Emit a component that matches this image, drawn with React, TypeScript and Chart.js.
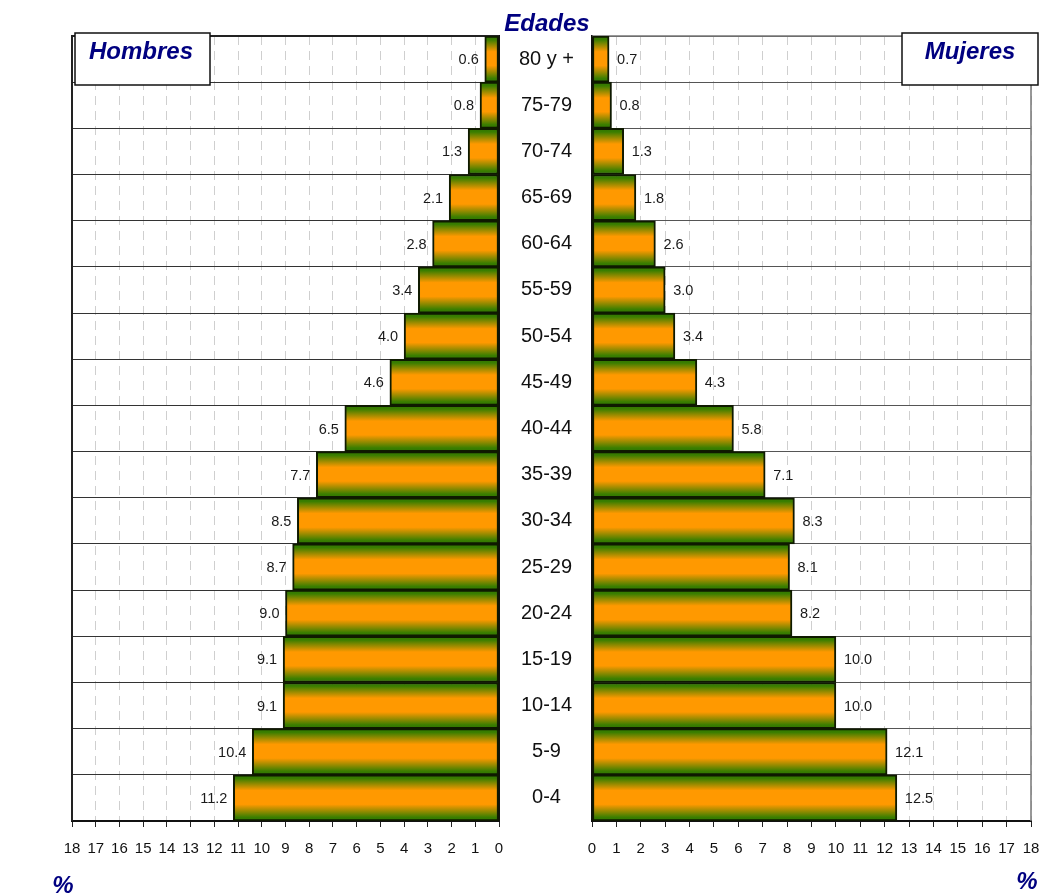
import React, { useEffect, useRef } from "react";
import { Chart, registerables } from "chart.js";

Chart.register(...registerables);

// ---- data ----
const ageGroups = [
  "80 y +", "75-79", "70-74", "65-69", "60-64", "55-59", "50-54", "45-49",
  "40-44", "35-39", "30-34", "25-29", "20-24", "15-19", "10-14", "5-9", "0-4",
];
const menValues = [0.6, 0.8, 1.3, 2.1, 2.8, 3.4, 4.0, 4.6, 6.5, 7.7, 8.5, 8.7, 9.0, 9.1, 9.1, 10.4, 11.2];
const womenValues = [0.7, 0.8, 1.3, 1.8, 2.6, 3.0, 3.4, 4.3, 5.8, 7.1, 8.3, 8.1, 8.2, 10.0, 10.0, 12.1, 12.5];
const axisMin = 0;
const axisMax = 18;
const titleText = "Edades";
const menText = "Hombres";
const womenText = "Mujeres";
const unitText = "%";

const FONT = "'Liberation Sans', Arial, sans-serif";
const NAVY = "#000080";

const barFill = (ctx: any) => {
  const chart = ctx.chart;
  const y = chart.scales && chart.scales.y;
  if (!y || ctx.type !== "data") return "#ff9900";
  const c = y.getPixelForValue(ctx.dataIndex);
  const h = (y.bottom - y.top) / ageGroups.length / 2;
  if (!isFinite(c) || !isFinite(h) || h <= 0) return "#ff9900";
  const g = chart.ctx.createLinearGradient(0, c - h, 0, c + h);
  g.addColorStop(0, "#2f7400");
  g.addColorStop(0.08, "#3a7e00");
  g.addColorStop(0.34, "#ff9900");
  g.addColorStop(0.64, "#ff9900");
  g.addColorStop(0.92, "#3a7e00");
  g.addColorStop(1, "#2f7400");
  return g;
};

const labelsPlugin = (side: "left" | "right") => ({
  id: "valueLabels" + side,
  afterDatasetsDraw(chart: any) {
    const ctx = chart.ctx;
    const meta = chart.getDatasetMeta(0);
    const data = chart.data.datasets[0].data as number[];
    ctx.save();
    ctx.font = `14.5px ${FONT}`;
    ctx.fillStyle = "#1a1a1a";
    ctx.textBaseline = "middle";
    meta.data.forEach((el: any, i: number) => {
      const txt = data[i].toFixed(1);
      if (side === "left") {
        ctx.textAlign = "right";
        ctx.fillText(txt, el.x - 6, el.y + 1);
      } else {
        ctx.textAlign = "left";
        ctx.fillText(txt, el.x + 8, el.y + 1);
      }
    });
    ctx.restore();
  },
});

const framePlugin = (side: "left" | "right") => ({
  id: "frame" + side,
  beforeDatasetsDraw(chart: any) {
    const { ctx, chartArea: a } = chart;
    ctx.save();
    if (side === "left") {
      ctx.strokeStyle = "#222";
      ctx.lineWidth = 2;
      ctx.beginPath();
      ctx.moveTo(a.left, a.bottom);
      ctx.lineTo(a.left, a.top);
      ctx.lineTo(a.right, a.top);
      ctx.stroke();
    } else {
      ctx.strokeStyle = "#777";
      ctx.lineWidth = 1.5;
      ctx.beginPath();
      ctx.moveTo(a.left, a.top);
      ctx.lineTo(a.right, a.top);
      ctx.lineTo(a.right, a.bottom);
      ctx.stroke();
    }
    ctx.restore();
  },
  afterDraw(chart: any) {
    const ctx = chart.ctx;
    ctx.save();
    const drawBox = (x: number, y: number, w: number, h: number, text: string, tx: number) => {
      ctx.fillStyle = "#ffffff";
      ctx.fillRect(x, y, w, h);
      ctx.strokeStyle = "#111";
      ctx.lineWidth = 1.5;
      ctx.strokeRect(x, y, w, h);
      ctx.fillStyle = NAVY;
      ctx.font = `italic bold 24px ${FONT}`;
      ctx.textAlign = "center";
      ctx.textBaseline = "alphabetic";
      ctx.fillText(text, tx, 59);
    };
    if (side === "left") {
      drawBox(75, 33, 135, 52, menText, 141);
      ctx.font = `italic bold 24px ${FONT}`;
      ctx.fillStyle = NAVY;
      ctx.textAlign = "center";
      ctx.textBaseline = "alphabetic";
      ctx.fillText(titleText, 547, 31);
      ctx.fillText(unitText, 63, 893);
    } else {
      drawBox(902, 33, 136, 52, womenText, 970);
      ctx.font = `italic bold 24px ${FONT}`;
      ctx.fillStyle = NAVY;
      ctx.textAlign = "center";
      ctx.textBaseline = "alphabetic";
      ctx.fillText(unitText, 1027, 889);
    }
    ctx.restore();
  },
});

function makeConfig(side: "left" | "right"): any {
  const isLeft = side === "left";
  return {
    type: "bar",
    data: {
      labels: ageGroups,
      datasets: [
        {
          data: isLeft ? menValues : womenValues,
          backgroundColor: barFill,
          borderColor: "#0f1a00",
          borderWidth: 2,
          borderSkipped: false,
          barPercentage: 1,
          categoryPercentage: 1,
        },
      ],
    },
    options: {
      indexAxis: "y",
      responsive: false,
      animation: false,
      events: [],
      layout: {
        padding: isLeft
          ? { left: 72, right: 455, top: 36, bottom: 0 }
          : { left: 592, right: 16, top: 36, bottom: 0 },
      },
      plugins: {
        legend: { display: false },
        tooltip: { enabled: false },
        title: { display: false },
      },
      scales: {
        x: {
          type: "linear",
          min: axisMin,
          max: axisMax,
          reverse: isLeft,
          afterFit(scale: any) {
            scale.height = 75;
            scale.paddingLeft = 0;
            scale.paddingRight = 0;
          },
          ticks: {
            stepSize: 1,
            autoSkip: false,
            maxRotation: 0,
            padding: 13,
            color: "#111",
            font: { family: FONT, size: 15 },
          },
          grid: {
            color: "#cfcfcf",
            lineWidth: 1,
            tickLength: 6,
            tickColor: "#222",
            tickWidth: 1,
          },
          border: {
            display: true,
            color: "#111",
            width: 2,
            dash: [9, 6],
          },
        },
        y: {
          type: "category",
          position: isLeft ? "right" : "left",
          afterFit(scale: any) {
            scale.width = isLeft ? 93 : 0;
          },
          ticks: {
            display: isLeft,
            crossAlign: "center",
            padding: 20,
            color: "#111",
            font: { family: FONT, size: 20 },
          },
          grid: {
            offset: true,
            drawTicks: false,
            color: isLeft ? "#333" : "#555",
            lineWidth: 1,
          },
          border: { display: true, color: "#111", width: 2 },
        },
      },
    },
    plugins: [framePlugin(side), labelsPlugin(side)],
  };
}

function PyramidHalf({ side }: { side: "left" | "right" }) {
  const ref = useRef<HTMLCanvasElement | null>(null);
  useEffect(() => {
    if (!ref.current) return;
    const chart = new Chart(ref.current, makeConfig(side));
    return () => chart.destroy();
  }, [side]);
  return (
    <canvas
      ref={ref}
      width={1047}
      height={896}
      style={{ position: "absolute", left: 0, top: 0, width: 1047, height: 896 }}
    />
  );
}

export default function App() {
  return (
    <div
      style={{
        position: "absolute",
        left: 0,
        top: 0,
        width: 1047,
        height: 896,
        background: "#ffffff",
        overflow: "hidden",
      }}
    >
      <PyramidHalf side="left" />
      <PyramidHalf side="right" />
    </div>
  );
}
